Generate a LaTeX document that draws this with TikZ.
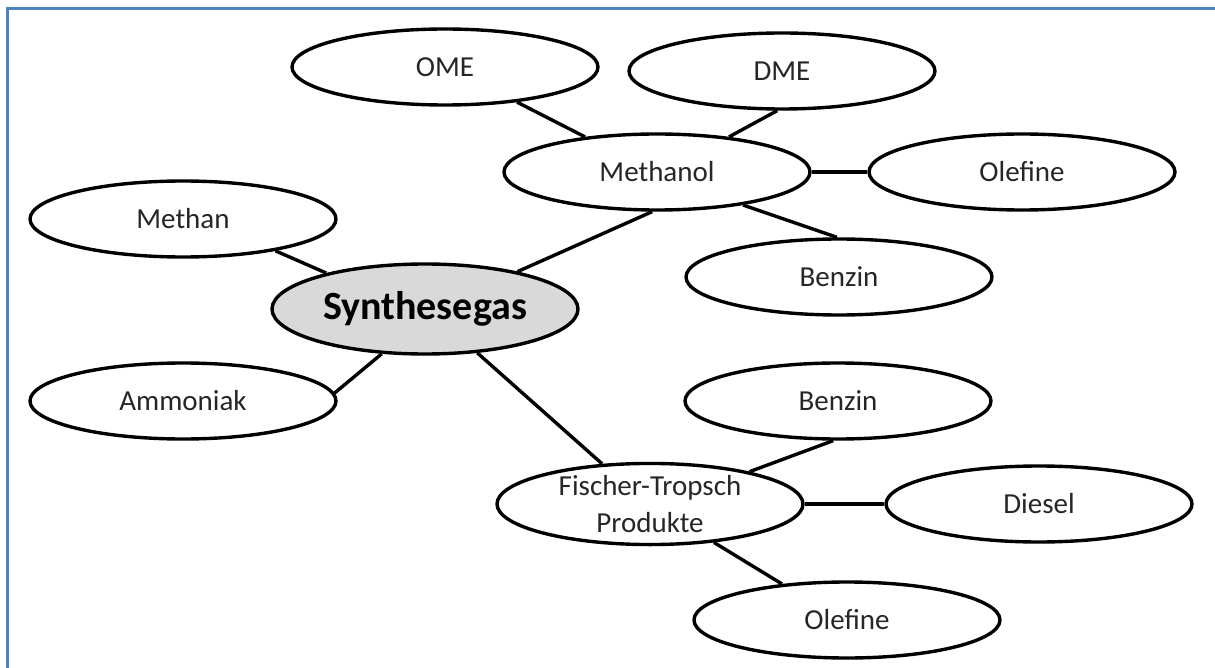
\documentclass[tikz,border=0pt]{standalone}
\usepackage{fontspec}
\setmainfont{Carlito}
\usetikzlibrary{shapes.geometric}
\definecolor{frameblue}{RGB}{79, 129, 189}
\definecolor{hubgray}{RGB}{217, 217, 217}
\tikzset{
  product/.style={ellipse, draw=black, line width=1.7pt, fill=white,
                  minimum width=153pt, minimum height=38pt, inner sep=0pt,
                  align=center, text=black!85, font=\fontsize{14.5}{18.5}\selectfont},
  hub/.style={product, fill=hubgray, minimum height=45pt, text=black,
              font=\fontsize{20}{24}\selectfont\bfseries},
  link/.style={black, line width=1.7pt}
}
\begin{document}
\begin{tikzpicture}[x=0.5pt, y=-0.5pt]
            \useasboundingbox                       (0, 0) rectangle (1215, 668);
            \draw[frameblue, line width=1.3pt]      (7.5, 668) -- (7.5, 8.5) -- (1215, 8.5);
            \node[hub]     (synth)    at ( 425, 309) {Synthesegas};
            \node[product] (methanol) at ( 657, 172) {Methanol};
            \node[product] (ome)      at ( 445,  67) {OME};
            \node[product] (dme)      at ( 782,  71) {DME};
            \node[product] (olefinA)  at (1022, 172) {Olefine};
            \node[product] (benzinA)  at ( 839, 277) {Benzin};
            \node[product] (methan)   at ( 183, 219) {Methan};
            \node[product] (ammoniak) at ( 183, 401) {Ammoniak};
            \node[product] (benzinB)  at ( 838, 401) {Benzin};
            \node[product] (ftp)      at ( 650, 504) {Fischer-Tropsch\\Produkte};
            \node[product] (diesel)   at (1039, 504) {Diesel};
            \node[product] (olefinB)  at ( 847, 620) {Olefine};
            \draw[link] (ome.-26)      -- (methanol.154);
            \draw[link] (dme.-97)      -- (methanol.26);
            \draw[link] (methanol.east)-- (olefinA.west);
            \draw[link] (methanol.-21) -- (benzinA.93);
            \draw[link] (methanol.-97) -- (synth.22);
            \draw[link] (methan.-19)   -- (synth.160);
            \draw[link] (ammoniak.3)   -- (synth.-134);
            \draw[link] (synth.-40)    -- (ftp.140);
            \draw[link] (ftp.18)       -- (benzinB.-97);
            \draw[link] (ftp.east)     -- (diesel.west);
            \draw[link] (ftp.-31)      -- (olefinB.151);
\end{tikzpicture}
\end{document}
